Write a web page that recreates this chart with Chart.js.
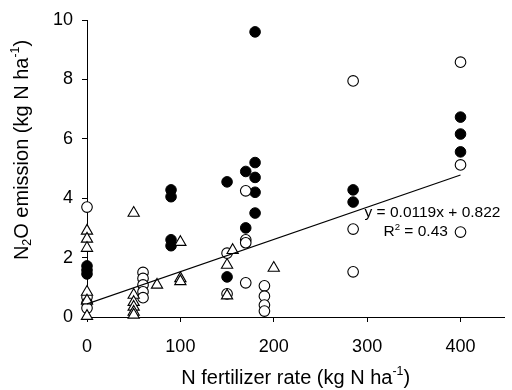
<!DOCTYPE html>
<html>
<head>
<meta charset="utf-8">
<script src="https://cdn.jsdelivr.net/npm/chart.js@4.4.1/dist/chart.umd.min.js"></script>
<style>
  html, body { margin: 0; padding: 0; background: #fff; }
  #wrap { width: 512px; height: 390px; }
</style>
</head>
<body>
<div id="wrap"><canvas id="chart" width="512" height="390"></canvas></div>
<script>
const xTicks = [0, 100, 200, 300, 400];
const yTicks = [0, 2, 4, 6, 8, 10];

// filled circles
const filledX = [0, 0, 0, 90, 90, 90, 90, 150, 150, 170, 170, 180, 180, 180, 180, 180, 285, 285, 400, 400, 400];
const filledY = [1.72, 1.58, 1.45, 4.28, 4.05, 2.6, 2.4, 4.55, 1.35, 4.9, 3.0, 9.6, 5.2, 4.7, 4.2, 3.5, 4.28, 3.87, 6.73, 6.16, 5.56];

// open circles
const openX = [0, 0, 0, 0, 60, 60, 60, 60, 60, 150, 150, 170, 170, 170, 170, 190, 190, 190, 190, 285, 285, 285, 400, 400, 400];
const openY = [3.7, 0.67, 0.47, 0.3, 1.5, 1.3, 1.08, 0.85, 0.65, 2.15, 0.78, 4.25, 2.6, 2.5, 1.15, 1.05, 0.7, 0.4, 0.2, 7.95, 2.96, 1.52, 8.58, 5.12, 2.86];

// open triangles
const triX = [0, 0, 0, 0, 0, 0, 50, 50, 50, 50, 50, 50, 75, 100, 100, 100, 150, 150, 156, 200];
const triY = [2.9, 2.63, 2.32, 0.84, 0.55, 0.03, 3.5, 0.74, 0.5, 0.34, 0.17, 0.07, 1.08, 2.52, 1.3, 1.2, 1.75, 0.72, 2.25, 1.65];

// regression line as drawn
const fitX = [0, 400];
const fitY = [0.44, 4.78];

const equationText = 'y = 0.0119x + 0.822';
const r2Text = ['R', '2', ' = 0.43'];

function toPoints(xs, ys) {
  return xs.map((x, i) => ({ x: x, y: ys[i] }));
}

const FONT = '"Liberation Sans", Arial, Helvetica, sans-serif';

// draws text runs with sub/superscripts, centred on x
function drawRich(ctx, parts, x, y, size) {
  let widths = parts.map(p => {
    let s = p.mode ? size * 0.62 : size;
    ctx.font = s + 'px ' + FONT;
    return ctx.measureText(p.t).width;
  });
  let total = widths.reduce((a, b) => a + b, 0);
  let cx = x - total / 2;
  ctx.textAlign = 'left';
  ctx.textBaseline = 'middle';
  parts.forEach((p, i) => {
    let s = p.mode ? size * 0.62 : size;
    let dy = 0;
    if (p.mode == 'sub') dy = size * 0.28;
    if (p.mode == 'sup') dy = -size * 0.32;
    ctx.font = s + 'px ' + FONT;
    ctx.fillText(p.t, cx, y + dy);
    cx += widths[i];
  });
}

const labelsPlugin = {
  id: 'labels',
  afterDraw(chart) {
    let ctx = chart.ctx;
    let xs = chart.scales.x;
    let ys = chart.scales.y;
    ctx.save();
    ctx.fillStyle = '#000';

    drawRich(ctx, [
      { t: 'N fertilizer rate (kg N ha' },
      { t: '-1', mode: 'sup' },
      { t: ')' }
    ], (chart.chartArea.left + chart.chartArea.right) / 2, 378, 20);

    ctx.save();
    ctx.translate(22, 150);
    ctx.rotate(-Math.PI / 2);
    drawRich(ctx, [
      { t: 'N' },
      { t: '2', mode: 'sub' },
      { t: 'O emission (kg N ha' },
      { t: '-1', mode: 'sup' },
      { t: ')' }
    ], 0, 0, 20);
    ctx.restore();

    drawRich(ctx, [{ t: equationText }], xs.getPixelForValue(370), ys.getPixelForValue(3.5), 15.5);
    drawRich(ctx, [
      { t: r2Text[0] },
      { t: r2Text[1], mode: 'sup' },
      { t: r2Text[2] }
    ], xs.getPixelForValue(352), ys.getPixelForValue(2.86), 15.5);
    ctx.restore();
  }
};

function axisTicks(values) {
  return function (scale) {
    scale.ticks = values.map(v => ({ value: v }));
  };
}

let ctx = document.getElementById('chart');
let myChart = new Chart(ctx, {
  type: 'scatter',
  data: {
    datasets: [
      {
        type: 'line',
        data: toPoints(fitX, fitY),
        borderColor: '#000',
        borderWidth: 1.2,
        pointRadius: 0,
        fill: false
      },
      {
        data: toPoints(triX, triY),
        pointStyle: 'triangle',
        pointRadius: 6.5,
        backgroundColor: '#fff',
        borderColor: '#000',
        borderWidth: 1.1,
        clip: false
      },
      {
        data: toPoints(openX, openY),
        pointStyle: 'circle',
        pointRadius: 5.3,
        backgroundColor: '#fff',
        borderColor: '#000',
        borderWidth: 1.1,
        clip: false
      },
      {
        data: toPoints(filledX, filledY),
        pointStyle: 'circle',
        pointRadius: 5.3,
        backgroundColor: '#000',
        borderColor: '#000',
        borderWidth: 1,
        clip: false
      }
    ]
  },
  options: {
    responsive: false,
    animation: false,
    layout: { padding: { top: 20, right: 0, bottom: 0, left: 0 } },
    plugins: {
      legend: { display: false },
      tooltip: { enabled: false }
    },
    scales: {
      x: {
        type: 'linear',
        min: 0,
        max: 447,
        afterBuildTicks: axisTicks(xTicks),
        afterFit: (s) => { s.height = 73; },
        grid: { drawOnChartArea: false, drawTicks: true, tickLength: 5, color: '#000' },
        border: { display: true, color: '#000', width: 1 },
        ticks: { color: '#000', padding: 14, font: { family: FONT, size: 18 } }
      },
      y: {
        type: 'linear',
        min: 0,
        max: 10,
        afterBuildTicks: axisTicks(yTicks),
        afterFit: (s) => { s.width = 87; },
        grid: { drawOnChartArea: false, drawTicks: true, tickLength: 5, color: '#000' },
        border: { display: true, color: '#000', width: 1 },
        ticks: { color: '#000', padding: 9, font: { family: FONT, size: 18 } }
      }
    }
  },
  plugins: [labelsPlugin]
});
</script>
</body>
</html>
